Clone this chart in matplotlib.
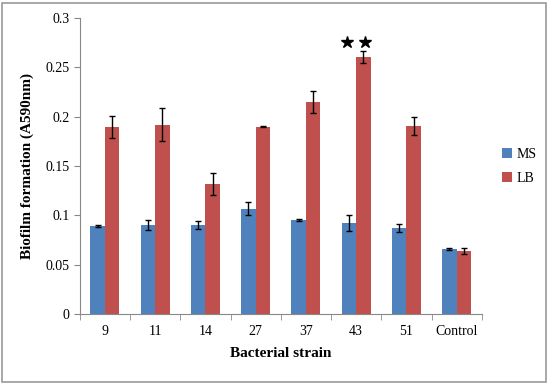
import matplotlib
matplotlib.use("Agg")
import matplotlib.pyplot as plt
import numpy as np
from matplotlib.patches import Rectangle

strains = ["9", "11", "14", "27", "37", "43", "51", "Control"]
ms_vals = [0.089, 0.090, 0.090, 0.107, 0.095, 0.092, 0.087, 0.066]
ms_err = [0.001, 0.005, 0.004, 0.007, 0.001, 0.008, 0.004, 0.001]
lb_vals = [0.190, 0.192, 0.132, 0.190, 0.215, 0.261, 0.191, 0.064]
lb_err = [0.011, 0.017, 0.011, 0.0005, 0.011, 0.006, 0.009, 0.003]
star_y = 0.2755

plt.rcParams["font.family"] = "Liberation Serif"

fig = plt.figure(figsize=(5.5, 3.85), dpi=100)
ax = fig.add_axes([0.145, 0.184, 0.731, 0.769])

x = np.arange(len(strains))
w = 0.29
errkw = dict(ecolor="black", capsize=2.5, elinewidth=1, capthick=1)
ax.bar(x - w / 2, ms_vals, w, yerr=ms_err, color="#4F81BD", label="MS", error_kw=errkw)
ax.bar(x + w / 2, lb_vals, w, yerr=lb_err, color="#C0504D", label="LB", error_kw=errkw)

# significance stars over strain 43
i43 = strains.index("43")
ax.plot([i43 - 0.18, i43 + 0.18], [star_y, star_y], linestyle="none",
        marker="*", markersize=9, color="black")

ax.set_xlim(-0.5, len(strains) - 0.5)
ax.set_ylim(0, 0.3)
ax.set_yticks([0, 0.05, 0.1, 0.15, 0.2, 0.25, 0.3])
ax.set_yticklabels(["0", "0.05", "0.1", "0.15", "0.2", "0.25", "0.3"])
ax.set_xticks(x)
ax.set_xticklabels(strains)
ax.set_xticks(np.arange(len(strains) + 1) - 0.5, minor=True)
ax.tick_params(axis="x", which="major", length=0, labelsize=10, pad=8)
ax.tick_params(axis="x", which="minor", length=4, color="#888888")
ax.tick_params(axis="y", length=4, color="#888888", labelsize=10)

for s in ["top", "right"]:
    ax.spines[s].set_visible(False)
for s in ["left", "bottom"]:
    ax.spines[s].set_color("#888888")

ax.set_xlabel("Bacterial strain", fontsize=11, fontweight="bold", labelpad=6)
ax.set_ylabel("Biofilm formation (A590nm)", fontsize=11, fontweight="bold", labelpad=8)

ax.legend(loc="center left", bbox_to_anchor=(1.02, 0.5), frameon=False,
          handlelength=0.7, handleheight=0.7, handletextpad=0.3,
          labelspacing=0.8, fontsize=10)

fig.patches.append(Rectangle((0.003, 0.008), 0.99, 0.983, transform=fig.transFigure,
                             fill=False, edgecolor="#999999", linewidth=1.2))

fig.savefig("out.png", dpi=100)
